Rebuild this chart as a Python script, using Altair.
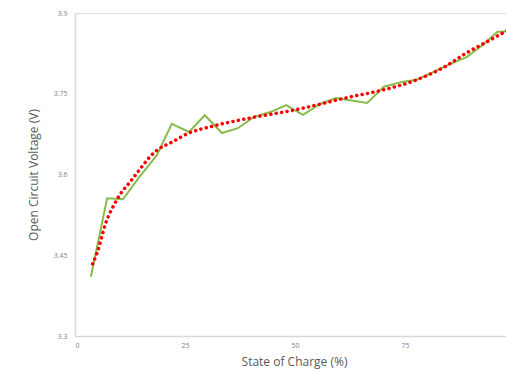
import altair as alt
import pandas as pd

# Measured open circuit voltage
soc = [3.6, 7.3, 10.9, 14.6, 18.6, 22.0, 25.9, 29.5, 33.4, 37.0, 40.7, 44.4, 48.0,
       51.8, 55.7, 59.3, 62.5, 66.4, 70.2, 74.3, 77.7, 81.4, 85.2, 89.0, 92.6, 96.0, 100.0]
ocv = [3.410, 3.556, 3.554, 3.595, 3.636, 3.694, 3.679, 3.710, 3.677, 3.686, 3.707, 3.716, 3.729,
       3.711, 3.731, 3.742, 3.738, 3.733, 3.763, 3.772, 3.776, 3.790, 3.805, 3.818, 3.840, 3.865, 3.866]

# Trend line
trend_soc = [4.0, 5.0, 7.0, 9.5, 12.9, 18.6, 22.0, 25.9, 31.4, 39.8, 50.0, 62.5, 70.0, 77.7, 84.0, 89.0, 93.5, 97.7, 100.0]
trend_v = [3.434, 3.454, 3.510, 3.553, 3.590, 3.645, 3.660, 3.677, 3.690, 3.705, 3.720, 3.744, 3.757, 3.776, 3.800, 3.826, 3.846, 3.865, 3.875]

df = pd.DataFrame({"soc": soc, "ocv": ocv})
tf = pd.DataFrame({"soc": trend_soc, "v": trend_v})

xscale = alt.Scale(domain=[0, 97.95], nice=False, zero=False)
yscale = alt.Scale(domain=[3.3, 3.9], nice=False, zero=False)

font = "Open Sans"

xaxis = alt.Axis(values=[0, 25, 50, 75], title="State of Charge (%)", grid=False, ticks=False,
                 domainColor="#d9d9d9", domainWidth=1.5, labelColor="#7f7f7f", labelFontSize=7,
                 labelPadding=5, titleColor="#595959", titleFontSize=12, titleFontWeight="normal",
                 titlePadding=8, labelFont=font, titleFont=font, titleX=219)
yaxis = alt.Axis(values=[3.3, 3.45, 3.6, 3.75, 3.9], format=".2~f", title="Open Circuit Voltage (V)",
                 grid=False, ticks=False, domainColor="#d9d9d9", domainWidth=1.5, labelColor="#7f7f7f",
                 labelFontSize=7, labelPadding=8, titleColor="#595959", titleFontSize=12,
                 titleFontWeight="normal", titlePadding=13, labelFont=font, titleFont=font)

green = alt.Chart(df).mark_line(color="#86bc4a", strokeWidth=2, clip=True).encode(
    x=alt.X("soc:Q", scale=xscale, axis=xaxis),
    y=alt.Y("ocv:Q", scale=yscale, axis=yaxis),
)

red = alt.Chart(tf).mark_line(color="#ff0000", strokeWidth=3.5, strokeDash=[0.1, 5.4],
                              strokeCap="round", interpolate="monotone", clip=True).encode(
    x=alt.X("soc:Q", scale=xscale),
    y=alt.Y("v:Q", scale=yscale),
)

chart = alt.layer(green, red).properties(
    width=431, height=323,
    autosize=alt.AutoSizeParams(type="none"),
    padding={"left": 75, "top": 13, "right": 0, "bottom": 33},
).configure_view(stroke=None).configure(background="white")

chart.save("out.html", embed_options={"renderer": "svg", "actions": False})
